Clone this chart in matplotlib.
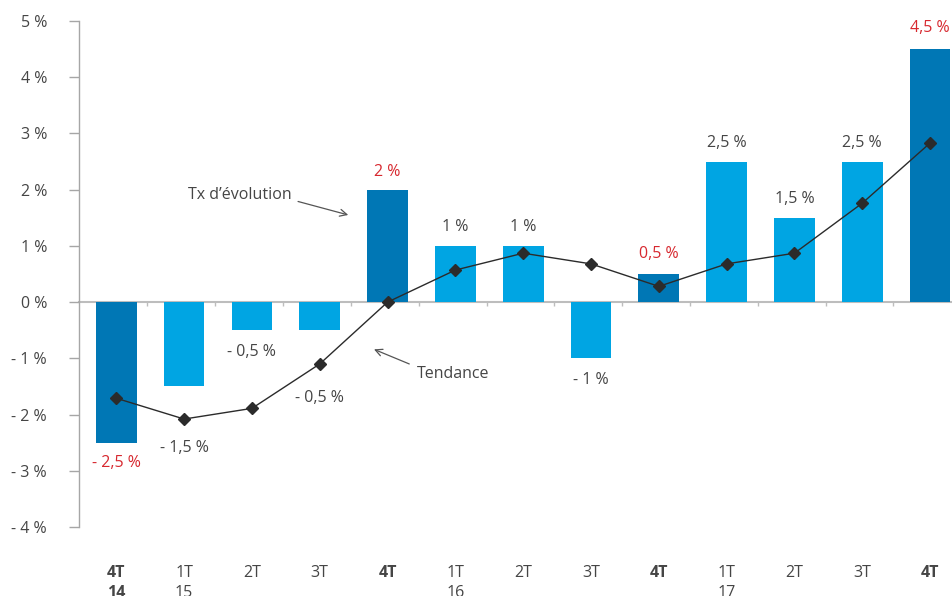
import matplotlib
matplotlib.use("Agg")
import matplotlib.pyplot as plt
from matplotlib.transforms import blended_transform_factory
import numpy as np

plt.rcParams['font.family'] = ['Open Sans', 'DejaVu Sans']

# ---- data ----
quarters = ["4T", "1T", "2T", "3T", "4T", "1T", "2T", "3T", "4T", "1T", "2T", "3T", "4T"]
years = ["14", "15", "", "", "", "16", "", "", "", "17", "", "", ""]
evolution = [-2.5, -1.5, -0.5, -0.5, 2.0, 1.0, 1.0, -1.0, 0.5, 2.5, 1.5, 2.5, 4.5]
tendance = [-1.71, -2.08, -1.89, -1.10, 0.0, 0.57, 0.87, 0.68, 0.28, 0.68, 0.87, 1.76, 2.83]
value_labels = ["- 2,5 %", "- 1,5 %", "- 0,5 %", "- 0,5 %", "2 %", "1 %", "1 %", "- 1 %",
                "0,5 %", "2,5 %", "1,5 %", "2,5 %", "4,5 %"]
y_ticks = [5, 4, 3, 2, 1, 0, -1, -2, -3, -4]
y_tick_labels = ["5 %", "4 %", "3 %", "2 %", "1 %", "0 %", "- 1 %", "- 2 %", "- 3 %", "- 4 %"]

# label offsets (pixels from bar end)
label_offsets = [20, 62, 22, 68, 18, 19, 19, 22, 20, 19, 19, 19, 21]

DARK = "#0077B5"
LIGHT = "#00A5E3"
RED = "#D7282F"
GREY_TXT = "#454545"
AXIS = "#A6A6A6"
FS = 11.5

fig = plt.figure(figsize=(9.52, 5.96), dpi=100)
W, H = 952, 596
ax_left, ax_right, ax_top, ax_bot = 79, 964, 21, 527
ax = fig.add_axes([ax_left / W, 1 - ax_bot / H, (ax_right - ax_left) / W, (ax_bot - ax_top) / H])

x = np.arange(len(evolution))
is_q4 = [q == "4T" for q in quarters]
colors = [DARK if d else LIGHT for d in is_q4]
ax.bar(x, evolution, width=0.6, color=colors, zorder=2)

ax.plot(x, tendance, color="#2b2b2b", lw=1.0, marker="D", markersize=6,
        markerfacecolor="#2b2b2b", markeredgecolor="#2b2b2b", zorder=3)

ax.set_xlim(-0.55, 12.5)
ax.set_ylim(-4, 5)

# axes styling
for s in ["top", "right"]:
    ax.spines[s].set_visible(False)
ax.spines["left"].set_color(AXIS)
ax.spines["left"].set_linewidth(1.0)
ax.spines["bottom"].set_position(("data", 0))
ax.spines["bottom"].set_color("#BDBDBD")
ax.spines["bottom"].set_linewidth(1.5)
ax.spines["bottom"].set_zorder(1)

ax.set_yticks(y_ticks)
ax.set_yticklabels(y_tick_labels, fontsize=FS, color=GREY_TXT)
ax.tick_params(axis="y", length=7, width=1, color=AXIS, pad=16)

ax.set_xticks(np.arange(0.46, 12, 1.0))
ax.set_xticklabels([])
ax.tick_params(axis="x", length=3, width=1, color="#BDBDBD", direction="out")

# category labels
trans = blended_transform_factory(ax.transData, ax.transAxes)
for i, (q, yv) in enumerate(zip(quarters, years)):
    txt = q + ("\n" + yv if yv else "")
    ax.text(i, -0.075, txt, transform=trans, ha="center", va="top", fontsize=FS,
            color=GREY_TXT, fontweight="bold" if is_q4[i] else "normal",
            linespacing=1.3, clip_on=False)

# value labels
for i, (v, lab, off) in enumerate(zip(evolution, value_labels, label_offsets)):
    col = RED if is_q4[i] else GREY_TXT
    sign = 1 if v >= 0 else -1
    ax.annotate(lab, (i, v), xytext=(0, sign * off * 0.72), textcoords="offset points",
                ha="center", va="center", fontsize=FS, color=col, zorder=4)

# annotations
arrow_kw = dict(arrowstyle="->,head_length=0.5,head_width=0.25", color="#555555", lw=0.9,
                shrinkA=0, shrinkB=0)
ax.text(1.82, 1.90, "Tx d\u2019évolution", fontsize=FS, color=GREY_TXT, ha="center", va="center")
ax.annotate("", xy=(3.42, 1.55), xytext=(2.68, 1.79), arrowprops=arrow_kw)
ax.text(4.97, -1.28, "Tendance", fontsize=FS, color=GREY_TXT, ha="center", va="center")
ax.annotate("", xy=(3.80, -0.84), xytext=(4.32, -1.10), arrowprops=arrow_kw)

fig.savefig("out.png", dpi=100)
